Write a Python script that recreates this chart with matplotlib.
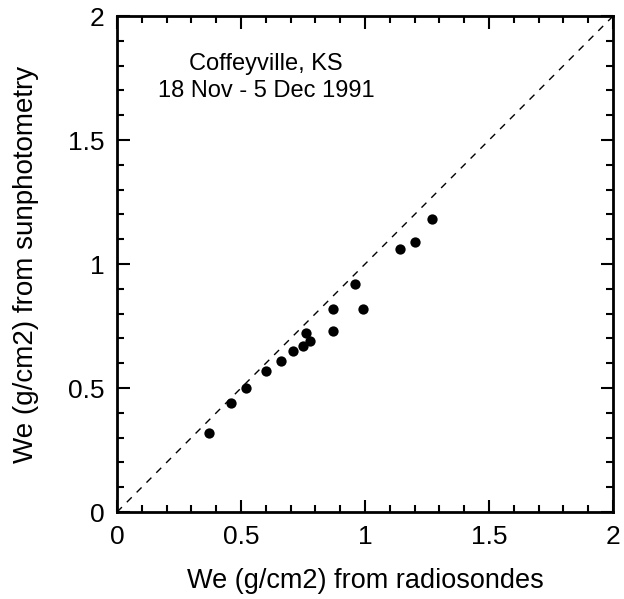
import matplotlib.pyplot as plt
from matplotlib.ticker import MultipleLocator, FuncFormatter

plt.rcParams['font.family'] = ['Liberation Sans', 'DejaVu Sans']

# water vapour (g/cm2): radiosondes vs sunphotometry
radiosonde = [0.37, 0.46, 0.52, 0.60, 0.66, 0.71, 0.75, 0.78, 0.76, 0.87, 0.87,
              0.96, 0.99, 1.14, 1.20, 1.27]
sunphoto = [0.32, 0.44, 0.50, 0.57, 0.61, 0.65, 0.67, 0.69, 0.72, 0.82, 0.73,
            0.92, 0.82, 1.06, 1.09, 1.18]
one_to_one = [0, 2]
site_text = "Coffeyville, KS\n18 Nov - 5 Dec 1991"

fig = plt.figure(figsize=(6.24, 5.99), dpi=100)
ax = fig.add_axes([0.1875, 0.1452, 0.795, 0.828])

ax.plot(one_to_one, one_to_one, color='black', lw=1.0, dashes=(5, 5))
ax.scatter(radiosonde, sunphoto, s=55, color='black', zorder=3, linewidths=0)

ax.set_xlim(0, 2)
ax.set_ylim(0, 2)
for a in (ax.xaxis, ax.yaxis):
    a.set_major_locator(MultipleLocator(0.5))
    a.set_minor_locator(MultipleLocator(0.1))
    a.set_major_formatter(FuncFormatter(lambda v, p: f"{v:g}"))
ax.tick_params(which='both', direction='in', top=True, right=True, width=1.5,
               labelsize=19, pad=9)
ax.tick_params(which='major', length=9)
ax.tick_params(which='minor', length=5)
for s in ax.spines.values():
    s.set_linewidth(2)

ax.set_xlabel("We (g/cm2) from radiosondes", fontsize=19.5, labelpad=14)
ax.set_ylabel("We (g/cm2) from sunphotometry", fontsize=20, labelpad=21)
ax.text(0.30, 0.877, site_text, transform=ax.transAxes, ha='center', va='center',
        fontsize=17, linespacing=1.3)

fig.savefig('out.png', dpi=100)
